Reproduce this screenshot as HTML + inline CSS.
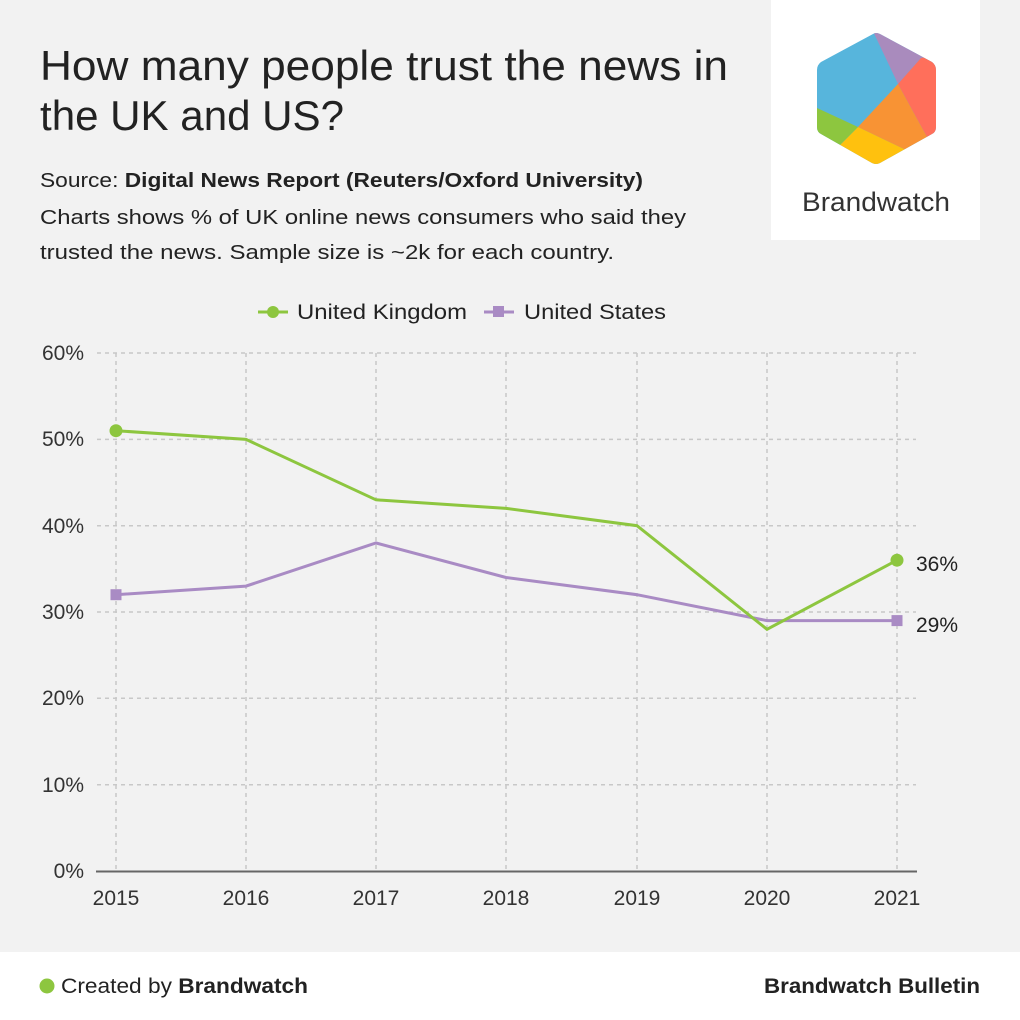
<!DOCTYPE html>
<html><head><meta charset="utf-8"><style>
html,body{margin:0;padding:0}
body{width:1020px;height:1020px;background:#f2f2f2;position:relative;overflow:hidden;font-family:"Liberation Sans",sans-serif;color:#222}
</style></head><body>
<svg width="1020" height="1020" viewBox="0 0 1020 1020" style="position:absolute;left:0;top:0" font-family="Liberation Sans, sans-serif">
<rect x="0" y="0" width="1020" height="1020" fill="#f2f2f2"/>
<rect x="771" y="0" width="209" height="240" fill="#fff"/>
<defs><clipPath id="hex"><path d="M873,34 Q876,32 880,34 L932,62 Q936,65 936,70 L936,127 Q936,132 932,134 L880,163 Q876,165 872,163 L821,134 Q817,132 817,127 L817,70 Q817,65 821,62 Z"/></clipPath></defs>
<g clip-path="url(#hex)">
<rect x="810" y="30" width="130" height="140" fill="#57b5dc"/>
<polygon points="870,25 940,25 940,55 921,58 898,84" fill="#a98bbd"/>
<polygon points="898,84 921,58 940,55 940,140 927,137" fill="#ff6f5b"/>
<polygon points="898,84 927,137 940,140 906,150 858,127" fill="#f89334"/>
<polygon points="858,127 906,150 880,170 830,170 840,145" fill="#ffc10e"/>
<polygon points="810,105 817,108 858,127 840,145 810,150" fill="#8dc63f"/>
</g>
<text x="802" y="211" font-size="27" fill="#333" textLength="148" lengthAdjust="spacingAndGlyphs">Brandwatch</text>
<text x="40" y="80" font-size="42" fill="#222" textLength="688" lengthAdjust="spacingAndGlyphs">How many people trust the news in</text>
<text x="40" y="130" font-size="42" fill="#222" textLength="304" lengthAdjust="spacingAndGlyphs">the UK and US?</text>
<text x="40" y="187" font-size="20" fill="#222" textLength="603" lengthAdjust="spacingAndGlyphs">Source: <tspan font-weight="bold">Digital News Report (Reuters/Oxford University)</tspan></text>
<text x="40" y="224" font-size="20" fill="#222" textLength="646" lengthAdjust="spacingAndGlyphs">Charts shows % of UK online news consumers who said they</text>
<text x="40" y="259" font-size="20" fill="#222" textLength="574" lengthAdjust="spacingAndGlyphs">trusted the news. Sample size is ~2k for each country.</text>
<line x1="258" y1="312" x2="288" y2="312" stroke="#8dc63f" stroke-width="3"/>
<circle cx="273" cy="312" r="6" fill="#8dc63f"/>
<text x="297" y="319" font-size="21" fill="#222" textLength="170" lengthAdjust="spacingAndGlyphs">United Kingdom</text>
<line x1="484" y1="312" x2="514" y2="312" stroke="#a98bc4" stroke-width="3"/>
<rect x="493" y="306" width="11" height="11" fill="#a98bc4"/>
<text x="524" y="319" font-size="21" fill="#222" textLength="142" lengthAdjust="spacingAndGlyphs">United States</text>
<g stroke="#c8c8c8" stroke-width="1.5" stroke-dasharray="4,4">
<line x1="97" y1="353" x2="916" y2="353"/><line x1="97" y1="439.4" x2="916" y2="439.4"/><line x1="97" y1="525.7" x2="916" y2="525.7"/><line x1="97" y1="612" x2="916" y2="612"/><line x1="97" y1="698.3" x2="916" y2="698.3"/><line x1="97" y1="784.7" x2="916" y2="784.7"/>
<line x1="116" y1="353" x2="116" y2="871"/><line x1="246" y1="353" x2="246" y2="871"/><line x1="376" y1="353" x2="376" y2="871"/><line x1="506" y1="353" x2="506" y2="871"/><line x1="637" y1="353" x2="637" y2="871"/><line x1="767" y1="353" x2="767" y2="871"/><line x1="897" y1="353" x2="897" y2="871"/>
</g>
<line x1="96" y1="871.5" x2="917" y2="871.5" stroke="#666" stroke-width="2"/>
<g font-size="21" fill="#333" text-anchor="end">
<text x="84" y="360">60%</text><text x="84" y="446">50%</text><text x="84" y="533">40%</text><text x="84" y="619">30%</text><text x="84" y="705">20%</text><text x="84" y="792">10%</text><text x="84" y="878">0%</text>
</g>
<g font-size="21" fill="#333" text-anchor="middle">
<text x="116" y="905">2015</text><text x="246" y="905">2016</text><text x="376" y="905">2017</text><text x="506" y="905">2018</text><text x="637" y="905">2019</text><text x="767" y="905">2020</text><text x="897" y="905">2021</text>
</g>
<polyline points="116,594.7 246,586.1 376,543 506,577.5 637,594.7 767,620.6 897,620.6" fill="none" stroke="#a98bc4" stroke-width="3"/>
<rect x="110.5" y="589.2" width="11" height="11" fill="#a98bc4"/>
<rect x="891.5" y="615.1" width="11" height="11" fill="#a98bc4"/>
<polyline points="116,430.7 246,439.4 376,499.8 506,508.4 637,525.7 767,629.3 897,560.2" fill="none" stroke="#8dc63f" stroke-width="3"/>
<circle cx="116" cy="430.7" r="6.5" fill="#8dc63f"/>
<circle cx="897" cy="560.2" r="6.5" fill="#8dc63f"/>
<text x="916" y="571" font-size="21" fill="#222">36%</text>
<text x="916" y="632" font-size="21" fill="#222">29%</text>
<rect x="0" y="952" width="1020" height="68" fill="#fff"/>
<circle cx="47" cy="986" r="7.5" fill="#8dc63f"/>
<text x="61" y="993" font-size="21" fill="#222" textLength="247" lengthAdjust="spacingAndGlyphs">Created by <tspan font-weight="bold">Brandwatch</tspan></text>
<text x="764" y="993" font-size="21" font-weight="bold" fill="#222" textLength="216" lengthAdjust="spacingAndGlyphs">Brandwatch Bulletin</text>
</svg>
</body></html>
